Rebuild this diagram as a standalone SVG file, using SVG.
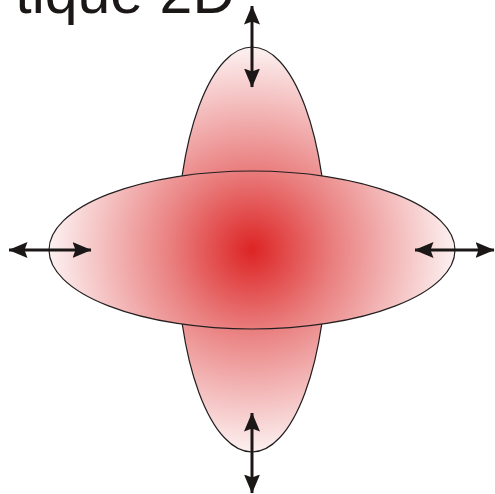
<svg xmlns="http://www.w3.org/2000/svg" width="495" height="494" viewBox="0 0 495 494">
<style>
.shape{stroke:#231f20;stroke-width:1.2;fill:url(#g)}
.arr{stroke:#1a1716;stroke-width:3;fill:none;marker-start:url(#ah);marker-end:url(#ah)}
.title{font-family:"Liberation Sans",Arial,sans-serif;font-size:59px;fill:#1a1716}
</style>
<defs>
<radialGradient id="g" gradientUnits="userSpaceOnUse" cx="252" cy="250" r="206">
<stop offset="0" stop-color="#dd2424"/>
<stop offset="0.4" stop-color="#ea8080"/>
<stop offset="1" stop-color="#fdf4f4"/>
</radialGradient>
<marker id="ah" markerUnits="userSpaceOnUse" viewBox="0 0 19 16" refX="18.5" refY="8" markerWidth="19" markerHeight="16" orient="auto-start-reverse">
<path d="M0,0 L19,8 L0,16 L3,8 z" fill="#1a1716"/>
</marker>
</defs>
<text class="title" x="235" y="13" text-anchor="end">tique 2D</text>
<g id="vertical-ellipse">
<ellipse class="shape" cx="252" cy="249.5" rx="75" ry="202.5"/>
</g>
<g id="horizontal-ellipse">
<ellipse class="shape" cx="252" cy="250" rx="203" ry="79"/>
</g>
<g id="connectors">
<line class="arr" x1="252" y1="6" x2="252" y2="87"/>
<line class="arr" x1="252" y1="413" x2="252" y2="493"/>
<line class="arr" x1="9" y1="250" x2="91" y2="250"/>
<line class="arr" x1="415" y1="250" x2="494" y2="250"/>
</g>
</svg>
